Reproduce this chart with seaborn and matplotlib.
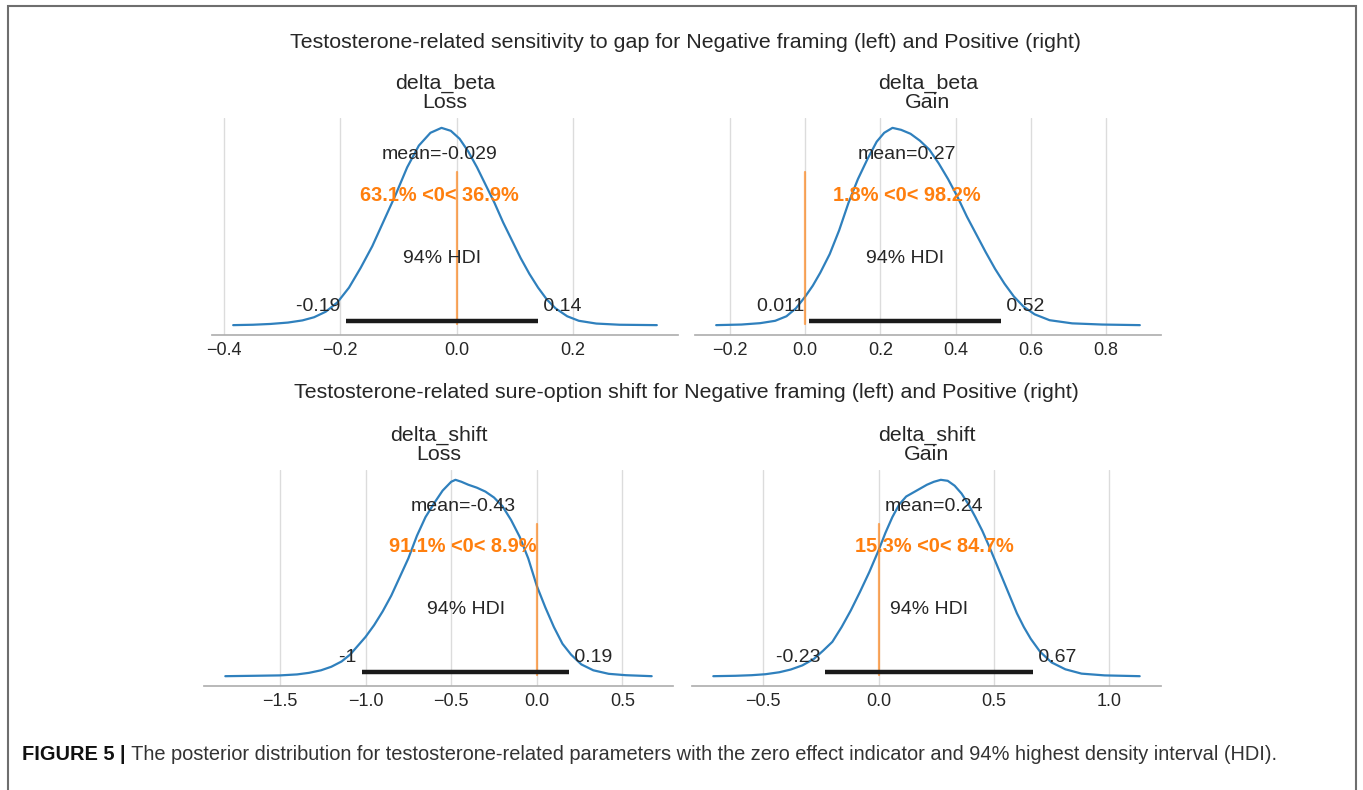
import matplotlib
matplotlib.use("Agg")
import matplotlib.pyplot as plt
import seaborn as sns
import pandas as pd
from matplotlib.patches import Rectangle

# ---------------- data ----------------
suptitles = [
    "Testosterone-related sensitivity to gap for Negative framing (left) and Positive (right)",
    "Testosterone-related sure-option shift for Negative framing (left) and Positive (right)",
]
var_names = ["delta_beta", "delta_beta", "delta_shift", "delta_shift"]
conditions = ["Loss", "Gain", "Loss", "Gain"]

# posterior density curves (x value, density relative to the peak)
x_beta_loss = [-0.384, -0.35, -0.32, -0.29, -0.265, -0.245, -0.225, -0.205, -0.185, -0.165,
               -0.145, -0.125, -0.105, -0.085, -0.065, -0.045, -0.026, -0.01, 0.005, 0.02,
               0.035, 0.05, 0.065, 0.08, 0.095, 0.11, 0.125, 0.14, 0.155, 0.17, 0.19, 0.21,
               0.24, 0.28, 0.344]
d_beta_loss = [0.0, 0.002, 0.006, 0.013, 0.024, 0.04, 0.068, 0.115, 0.19, 0.29,
               0.40, 0.53, 0.66, 0.80, 0.91, 0.975, 1.0, 0.985, 0.945, 0.88,
               0.80, 0.71, 0.62, 0.52, 0.43, 0.34, 0.26, 0.19, 0.13, 0.085, 0.045, 0.022,
               0.008, 0.002, 0.0]

x_beta_gain = [-0.237, -0.17, -0.12, -0.08, -0.05, -0.025, 0.0, 0.02, 0.04, 0.065, 0.09,
               0.115, 0.14, 0.165, 0.19, 0.21, 0.232, 0.255, 0.28, 0.305, 0.33, 0.355, 0.38,
               0.405, 0.43, 0.455, 0.48, 0.505, 0.53, 0.555, 0.58, 0.61, 0.65, 0.71, 0.79,
               0.890]
d_beta_gain = [0.0, 0.003, 0.01, 0.022, 0.045, 0.085, 0.145, 0.2, 0.266, 0.36, 0.48,
               0.62, 0.74, 0.84, 0.93, 0.975, 1.0, 0.99, 0.97, 0.935, 0.89, 0.82, 0.74,
               0.65, 0.55, 0.46, 0.37, 0.285, 0.21, 0.145, 0.095, 0.055, 0.025, 0.009, 0.003,
               0.0]

x_shift_loss = [-1.819, -1.65, -1.50, -1.40, -1.33, -1.26, -1.20, -1.14, -1.09, -1.04, -1.0,
                -0.95, -0.90, -0.85, -0.80, -0.75, -0.70, -0.65, -0.60, -0.55, -0.50, -0.475,
                -0.44, -0.40, -0.35, -0.30, -0.25, -0.20, -0.15, -0.10, -0.05, 0.0, 0.05,
                0.10, 0.15, 0.20, 0.26, 0.33, 0.42, 0.52, 0.671]
d_shift_loss = [0.0, 0.002, 0.004, 0.009, 0.017, 0.03, 0.048, 0.075, 0.11, 0.16, 0.2,
                0.26, 0.33, 0.41, 0.505, 0.6, 0.715, 0.81, 0.88, 0.945, 0.99, 1.0,
                0.99, 0.975, 0.96, 0.94, 0.91, 0.865, 0.795, 0.71, 0.6, 0.46, 0.35,
                0.25, 0.165, 0.11, 0.06, 0.03, 0.012, 0.005, 0.0]

x_shift_gain = [-0.716, -0.62, -0.55, -0.49, -0.43, -0.38, -0.33, -0.28, -0.24, -0.20, -0.16,
                -0.12, -0.08, -0.04, 0.0, 0.03, 0.06, 0.09, 0.12, 0.15, 0.18, 0.21, 0.24, 0.27,
                0.30, 0.33, 0.36, 0.39, 0.42, 0.45, 0.48, 0.51, 0.54, 0.57, 0.60, 0.63, 0.66,
                0.70, 0.75, 0.81, 0.88, 0.98, 1.132]
d_shift_gain = [0.0, 0.002, 0.005, 0.01, 0.02, 0.034, 0.055, 0.088, 0.13, 0.175, 0.25,
                0.335, 0.43, 0.53, 0.64, 0.73, 0.81, 0.875, 0.915, 0.935, 0.955, 0.975, 0.99, 1.0,
                0.995, 0.97, 0.93, 0.875, 0.81, 0.74, 0.66, 0.575, 0.49, 0.405, 0.32, 0.25, 0.19,
                0.125, 0.07, 0.035, 0.013, 0.004, 0.0]

means = [-0.029, 0.27, -0.43, 0.24]
mean_labels = ["mean=-0.029", "mean=0.27", "mean=-0.43", "mean=0.24"]
ref_labels = ["63.1% <0< 36.9%", "1.8% <0< 98.2%", "91.1% <0< 8.9%", "15.3% <0< 84.7%"]
ref_val = 0.0
hdi_low = [-0.19, 0.011, -1.02, -0.23]
hdi_high = [0.14, 0.52, 0.19, 0.67]
hdi_prob_label = "94% HDI"
caption_bold = "FIGURE 5 |"
caption_text = (" The posterior distribution for testosterone-related parameters with the zero "
                "effect indicator and 94% highest density interval (HDI).")

curves_x = [x_beta_loss, x_beta_gain, x_shift_loss, x_shift_gain]
curves_d = [d_beta_loss, d_beta_gain, d_shift_loss, d_shift_gain]

# ---------------- style ----------------
sns.set_theme(style="whitegrid")
plt.rcParams["font.family"] = ["Liberation Sans", "DejaVu Sans"]
TXT = "#262626"
BLUE = "#2f80bd"
ORANGE = "#ff7f0e"

W, H = 1363, 790
fig = plt.figure(figsize=(W / 100, H / 100), dpi=100)

def px_axes(x0, x1, ytop, ybot):
    return fig.add_axes([x0 / W, (H - ybot) / H, (x1 - x0) / W, (ybot - ytop) / H])

axes = [
    px_axes(212, 678, 118, 335),
    px_axes(695, 1161, 118, 335),
    px_axes(204, 673, 470, 686),
    px_axes(692, 1161, 470, 686),
]

fs = 14
for i, ax in enumerate(axes):
    df = pd.DataFrame({"x": curves_x[i], "density": curves_d[i]})
    sns.lineplot(data=df, x="x", y="density", ax=ax, color=BLUE, linewidth=1.6, sort=False)
    ax.set_xlabel("")
    ax.set_ylabel("")
    ax.set_yticks([])
    for s in ("left", "right", "top"):
        ax.spines[s].set_visible(False)
    ax.spines["bottom"].set_color("#b0b0b0")
    ax.grid(axis="x", color="#dcdcdc", linewidth=1.0)
    ax.grid(axis="y", visible=False)
    ax.tick_params(axis="x", labelsize=13, colors=TXT, length=0, pad=5)
    ax.set_title(f"{var_names[i]}\n{conditions[i]}", fontsize=15.4, color=TXT, pad=7,
                 linespacing=1.05)

    ph = ax.get_ylim()[1]
    # point estimate
    ax.text(means[i], ph * 0.8, mean_labels[i], fontsize=fs, ha="center", color=TXT)
    # reference value
    ax.axvline(ref_val, ymin=0.05, ymax=0.75, lw=1.6, alpha=0.65, color=ORANGE)
    ax.text(means[i], ph * 0.6, ref_labels[i], fontsize=14.4, weight="bold", ha="center",
            color=ORANGE)
    # HDI
    ax.plot([hdi_low[i], hdi_high[i]], [ph * 0.02, ph * 0.02], lw=3.2, color="k",
            solid_capstyle="butt")
    ax.text(hdi_low[i], ph * 0.07, format(hdi_low[i], ".2g") + " ", fontsize=fs, ha="right",
            color=TXT)
    ax.text(hdi_high[i], ph * 0.07, " " + format(hdi_high[i], ".2g"), fontsize=fs, ha="left",
            color=TXT)
    ax.text((hdi_low[i] + hdi_high[i]) / 2, ph * 0.3, hdi_prob_label, fontsize=fs, ha="center",
            color=TXT)

fig.text(685 / W, 1 - 42 / H, suptitles[0], fontsize=15.4, ha="center", va="center", color=TXT)
fig.text(686 / W, 1 - 393 / H, suptitles[1], fontsize=15.4, ha="center", va="center", color=TXT)

# caption
t1 = fig.text(22 / W, 1 - 755 / H, caption_bold, fontsize=14.4, weight="bold", ha="left",
              va="center", color="#111111")
fig.canvas.draw()
bb = t1.get_window_extent(fig.canvas.get_renderer())
fig.text(bb.x1 / W, 1 - 755 / H, caption_text, fontsize=14.4, ha="left", va="center",
         color="#333333")

# frame
fig.patches.append(Rectangle((7.5 / W, -0.05), (1356 - 7.5) / W, 1.05 - 6 / H,
                             transform=fig.transFigure, fill=False, edgecolor="#6e6e6e",
                             linewidth=1.5))

fig.savefig("out.png", dpi=100)
